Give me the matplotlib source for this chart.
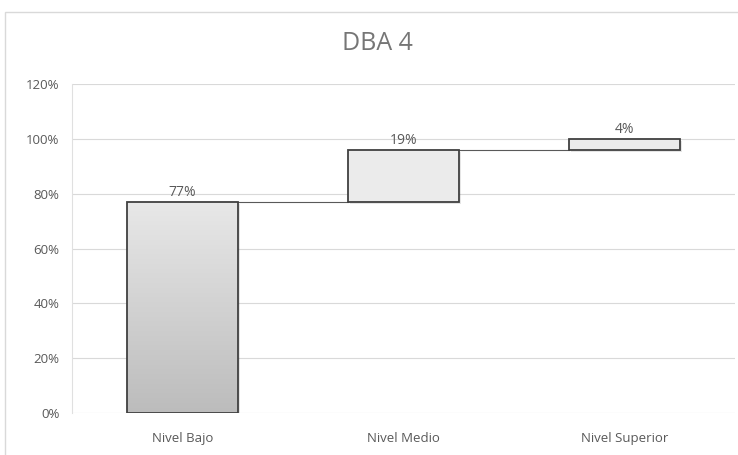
import matplotlib
matplotlib.use("Agg")
import matplotlib.pyplot as plt
import numpy as np
from matplotlib.patches import Rectangle

categories = ["Nivel Bajo", "Nivel Medio", "Nivel Superior"]
values = [77, 19, 4]
labels = ["77%", "19%", "4%"]
yticks = [0, 20, 40, 60, 80, 100, 120]
title = "DBA 4"

plt.rcParams['font.family'] = ['Open Sans', 'DejaVu Sans']
txt = "#595959"

fig = plt.figure(figsize=(7.38, 4.55), dpi=100)
ax = fig.add_axes([72/738, 1-413/455, (735-72)/738, (413-84)/455])

# chart frame
fig.patches.append(Rectangle((5/738, -0.1), 1.2, 1 - 12/455 + 0.1, transform=fig.transFigure,
                             fill=False, edgecolor="#d9d9d9", lw=1))

ax.set_ylim(0, 120)
ax.set_xlim(-0.5, 2.5)
for t in yticks:
    ax.axhline(t, color="#d9d9d9", lw=0.8, zorder=0)

width = 0.5
bottoms = np.concatenate([[0], np.cumsum(values)[:-1]])
x = np.arange(len(categories))

for i, (b, v) in enumerate(zip(bottoms, values)):
    # shadow
    ax.add_patch(Rectangle((x[i] - width/2 + 0.01, b - 0.8), width, v, facecolor="#000000",
                           alpha=0.10, edgecolor="none", zorder=2))
    if i == 0:
        r = Rectangle((x[i] - width/2, b), width, v, facecolor="none", edgecolor="#404040",
                      lw=1.3, zorder=4)
        grad = np.linspace(0, 1, 256).reshape(-1, 1)
        im = ax.imshow(grad, extent=(x[i] - width/2, x[i] + width/2, b, b + v),
                       cmap=matplotlib.colors.LinearSegmentedColormap.from_list("g", ["#bcbcbc", "#e8e8e8"]),
                       aspect="auto", origin="lower", zorder=3)
        clip = Rectangle((x[i] - width/2, b), width, v, transform=ax.transData)
        im.set_clip_path(clip)
        ax.add_patch(r)
    else:
        ax.add_patch(Rectangle((x[i] - width/2, b), width, v, facecolor="#ebebeb",
                               edgecolor="#404040", lw=1.3, zorder=4))
    ax.text(x[i], b + v + 0.8, labels[i], ha="center", va="bottom", fontsize=10, color=txt, zorder=5)

# connectors
tops = np.cumsum(values)
for i in range(len(values) - 1):
    ax.plot([x[i] + width/2, x[i+1] - width/2], [tops[i], tops[i]], color="#595959", lw=0.8, zorder=3)

ax.set_xlim(-0.5, 2.5)
ax.set_ylim(0, 120)
ax.set_xticks(x)
ax.set_xticklabels(categories, fontsize=9.5, color=txt)
ax.set_yticks(yticks)
ax.set_yticklabels([f"{t}%" for t in yticks], fontsize=9.5, color=txt)
ax.tick_params(axis="x", length=0, pad=14)
ax.tick_params(axis="y", length=0, pad=9)
for s in ax.spines.values():
    s.set_visible(False)
ax.spines["left"].set_visible(True)
ax.spines["left"].set_color("#e0e0e0")
ax.spines["left"].set_linewidth(0.8)

fig.text(377/738, 1 - 44/455, title, ha="center", va="center", fontsize=18, color="#767676")

fig.savefig("out.png", dpi=100)
